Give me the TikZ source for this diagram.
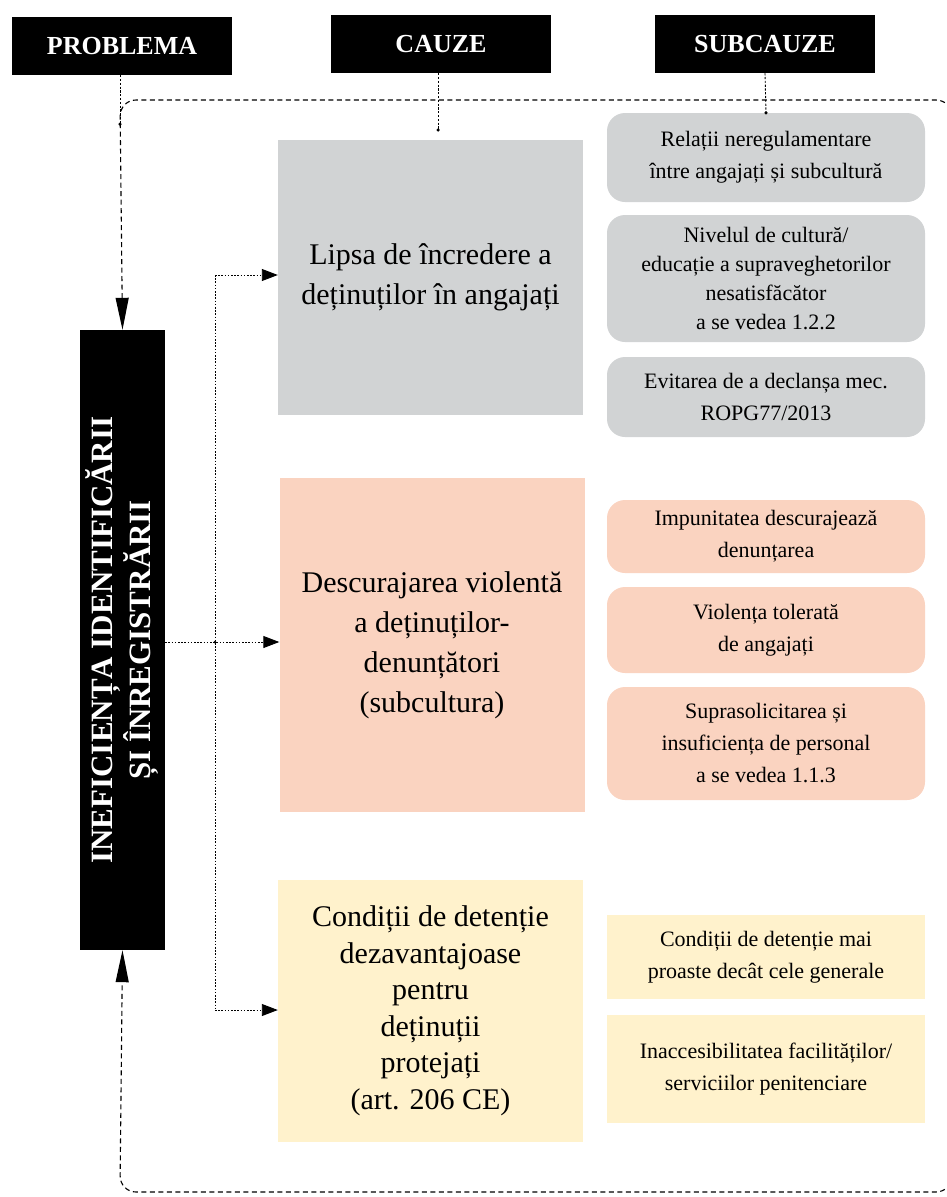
\documentclass[tikz,border=0pt]{standalone}
\usepackage{fontspec}
\setmainfont{Liberation Serif}
\usetikzlibrary{arrows.meta}

\definecolor{greybox}{HTML}{D1D3D4}
\definecolor{salmonbox}{HTML}{FAD3C0}
\definecolor{creambox}{HTML}{FFF2CC}

\tikzset{
  header/.style={fill=black, text=white, minimum width=220pt, minimum height=58pt,
    inner sep=0pt, font=\fontsize{26}{30}\selectfont\bfseries},
  causebox/.style={minimum width=305pt, inner sep=0pt, align=center,
    font=\fontsize{30}{40}\selectfont},
  subbox/.style={minimum width=318pt, inner sep=0pt, align=center,
    font=\fontsize{22}{32}\selectfont},
  roundsub/.style={subbox, rounded corners=18pt},
  frameline/.style={line width=1.1pt, dash pattern=on 5pt off 3.5pt},
  headline/.style={line width=0.9pt, dash pattern=on 2.2pt off 1.6pt},
  branch/.style={line width=0.9pt, dash pattern=on 1.6pt off 1.6pt},
  smalltip/.style={-{Triangle[length=16pt, width=12pt]}},
  joint/.style={circle, fill=black, inner sep=0pt, minimum size=3.5pt}
}

\begin{document}
\begin{tikzpicture}[x=1pt, y=-1pt]
\useasboundingbox (0,0) rectangle (947,1197);

% column headers
\node[header] (hp) at (122,46) {PROBLEMA};
\node[header] (hc) at (441,44) {CAUZE};
\node[header] (hs) at (765,44) {SUBCAUZE};

% problem box
\node[fill=black, minimum width=85pt, minimum height=620pt, inner sep=0pt] (prob) at (122.5,640) {};
\node[rotate=90, text=white, align=center, font=\fontsize{31}{38}\selectfont\bfseries]
  (probtext) at (prob.center) {INEFICIENȚA IDENTIFICĂRII\\ȘI ÎNREGISTRĂRII};

% causes
\node[causebox, fill=greybox, minimum height=275pt] (c1) at (430.5,277.5)
  {Lipsa de încredere a\\deținuților în angajați};
\node[causebox, fill=salmonbox, minimum height=334pt] (c2) at (432,645)
  {Descurajarea violentă\\a deținuților-\\denunțători\\(subcultura)};
\node[causebox, fill=creambox, minimum height=262pt, font=\fontsize{30}{36.5}\selectfont] (c3) at (430.5,1011)
  {Condiții de detenție\\dezavantajoase\\pentru\\deținuții\\protejați\\(art. 206 CE)};

% sub-causes
\node[roundsub, fill=greybox, minimum height=89pt] (s11) at (766,157.5)
  {Relații neregulamentare\\între angajați și subcultură};
\node[roundsub, fill=greybox, minimum height=127pt, font=\fontsize{22}{29}\selectfont] (s12) at (766,278.5)
  {Nivelul de cultură/\\educație a supraveghetorilor\\nesatisfăcător\\a se vedea 1.2.2};
\node[roundsub, fill=greybox, minimum height=80pt] (s13) at (766,397)
  {Evitarea de a declanșa mec.\\ROPG77/2013};
\node[roundsub, fill=salmonbox, minimum height=73pt] (s21) at (766,536.5)
  {Impunitatea descurajează\\denunțarea};
\node[roundsub, fill=salmonbox, minimum height=86pt] (s22) at (766,630)
  {Violența tolerată\\de angajați};
\node[roundsub, fill=salmonbox, minimum height=113pt] (s23) at (766,743.5)
  {Suprasolicitarea și\\insuficiența de personal\\a se vedea 1.1.3};
\node[subbox, fill=creambox, minimum height=84pt] (s31) at (766,957)
  {Condiții de detenție mai\\proaste decât cele generale};
\node[subbox, fill=creambox, minimum height=108pt] (s32) at (766,1069)
  {Inaccesibilitatea facilităților/\\serviciilor penitenciare};

% enclosing dashed frame, ending in arrows at the problem box
\draw[frameline, rounded corners=16pt, {Triangle[length=32pt, width=13pt]}-{Triangle[length=32pt, width=13pt]}]
  (prob.north) -- (120,100) -- (952,100) -- (952,1192) -- (120,1192) -- (prob.south);

% header guide lines
\coordinate (hpend) at (120,124);
\coordinate (hcend) at (438,130);
\draw[headline] (hp.south -| hpend) -- (hpend);
\draw[headline] (hc.south -| hcend) -- (hcend);
\draw[headline] (hs.south) -- (s11.north);
\node[joint] at (hpend) {};
\node[joint] at (hcend) {};
\node[joint] at (s11.north) {};

% branches from the problem to the causes
\coordinate (bt) at (215,275);
\coordinate (bb) at (215,1010);
\node[joint, minimum size=3pt] (bm) at (215,642) {};
\draw[branch] (bt) -- (bb);
\draw[branch, smalltip] (prob.east |- bm) -- (c2.west |- bm);
\draw[branch, smalltip] (bt) -- (c1.west |- bt);
\draw[branch, smalltip] (bb) -- (c3.west |- bb);
\end{tikzpicture}
\end{document}
